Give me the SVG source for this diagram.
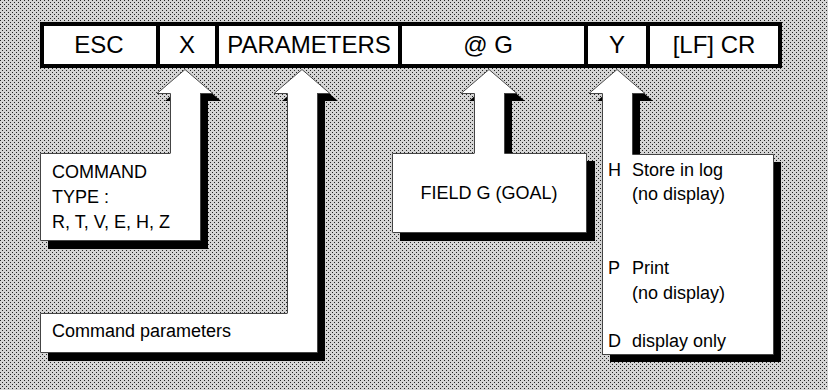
<svg xmlns="http://www.w3.org/2000/svg" width="828" height="390" viewBox="0 0 828 390">
  <defs>
    <pattern id="dots" width="4" height="4" patternUnits="userSpaceOnUse">
      <rect width="4" height="4" fill="#d4d4d4"/>
      <rect x="0" y="0" width="1" height="1" fill="#222"/>
      <rect x="2" y="2" width="1" height="1" fill="#222"/>
    </pattern>
  </defs>
  <style>
    .cell { fill: #fff; stroke: #000; stroke-width: 4; }
    .div { stroke: #000; stroke-width: 4; }
    .big { font-family: "Liberation Sans", Arial, sans-serif; font-size: 24px; fill: #000; text-anchor: middle; }
    .lbl { font-family: "Liberation Sans", Arial, sans-serif; font-size: 18px; fill: #000; }
    .shadow { fill: #000; stroke: none; }
    .white { fill: #fff; stroke: none; }
    .edge { fill: none; stroke: #444; stroke-width: 1; }
  </style>
  <rect width="828" height="390" fill="url(#dots)"/>

  <!-- top message bar -->
  <g id="bar">
    <rect class="cell" x="42" y="24" width="738" height="42"/>
    <line class="div" x1="158" y1="24" x2="158" y2="66"/>
    <line class="div" x1="217" y1="24" x2="217" y2="66"/>
    <line class="div" x1="400" y1="24" x2="400" y2="66"/>
    <line class="div" x1="586" y1="24" x2="586" y2="66"/>
    <line class="div" x1="648" y1="24" x2="648" y2="66"/>
  </g>
  <g id="cell-esc"><text class="big" x="99" y="53">ESC</text></g>
  <g id="cell-x"><text class="big" x="187" y="53">X</text></g>
  <g id="cell-parameters"><text class="big" x="309" y="53">PARAMETERS</text></g>
  <g id="cell-g"><text class="big" x="488" y="53">@ G</text></g>
  <g id="cell-y"><text class="big" x="617" y="53">Y</text></g>
  <g id="cell-lfcr"><text class="big" x="714" y="53">[LF] CR</text></g>

  <!-- connectors: block arrows -->
  <g id="connectors">
    <g id="arrow-x">
      <polygon class="shadow" transform="translate(8,8)" points="185,69 213,93 200,93 200,153 170,153 170,93 157,93"/>
      <polygon class="white" points="185,69 213,93 200,93 200,154 170,154 170,93 157,93"/>
      <polyline class="edge" points="170.5,153 170.5,93.5 157,93.5 185,69.5 213,93.5 200,93.5"/>
    </g>
    <g id="arrow-parameters">
      <polygon class="shadow" transform="translate(8,8)" points="302,69 330,93 317,93 317,313 287,313 287,93 274,93"/>
      <polygon class="white" points="302,69 330,93 317,93 317,314 287,314 287,93 274,93"/>
      <polyline class="edge" points="287.5,313 287.5,93.5 274,93.5 302,69.5 330,93.5 317,93.5"/>
    </g>
    <g id="arrow-g">
      <polygon class="shadow" transform="translate(8,8)" points="489,69 517,93 504,93 504,153 474,153 474,93 461,93"/>
      <polygon class="white" points="489,69 517,93 504,93 504,154 474,154 474,93 461,93"/>
      <polyline class="edge" points="474.5,153 474.5,93.5 461,93.5 489,69.5 517,93.5 504,93.5"/>
    </g>
    <g id="arrow-y">
      <polygon class="shadow" transform="translate(8,8)" points="617,69 645,93 632,93 632,154 602,154 602,93 589,93"/>
      <polygon class="white" points="617,69 645,93 632,93 632,155 602,155 602,93 589,93"/>
      <polyline class="edge" points="602.5,154 602.5,93.5 589,93.5 617,69.5 645,93.5 632,93.5"/>
    </g>
  </g>

  <!-- callout boxes -->
  <g id="box-command-type">
    <rect class="shadow" x="48" y="161" width="160" height="88"/>
    <rect class="white" x="40" y="153" width="160" height="88"/>
    <path class="edge" d="M170.5,153.5 H40.5 V240.5 H200.5 V93.5"/>
    <text class="lbl" x="52" y="178">COMMAND</text>
    <text class="lbl" x="52" y="203">TYPE :</text>
    <text class="lbl" x="52" y="228">R, T, V, E, H, Z</text>
  </g>
  <g id="box-command-parameters">
    <rect class="shadow" x="48" y="321" width="277" height="40"/>
    <rect class="white" x="40" y="313" width="277" height="40"/>
    <path class="edge" d="M287.5,313.5 H40.5 V352.5 H317.5 V93.5"/>
    <text class="lbl" x="52" y="337">Command parameters</text>
  </g>
  <g id="box-field-g">
    <rect class="shadow" x="400" y="161" width="195" height="80"/>
    <rect class="white" x="392" y="153" width="194" height="80"/>
    <path class="edge" d="M474.5,153.5 H392.5 V232.5 H586.5 V153.5 H504.5 V93.5"/>
    <text class="lbl" x="489" y="199" text-anchor="middle">FIELD G (GOAL)</text>
  </g>
  <g id="box-y-options">
    <rect class="shadow" x="610" y="162" width="171" height="200"/>
    <rect class="white" x="602" y="154" width="171" height="200"/>
    <path class="edge" d="M632.5,93.5 V154.5 H773.5 V354.5 H602.5 V154"/>
    <text class="lbl" x="608" y="175.5">H</text>
    <text class="lbl" x="632" y="175.5">Store in log</text>
    <text class="lbl" x="632" y="200">(no display)</text>
    <text class="lbl" x="608" y="274">P</text>
    <text class="lbl" x="632" y="274">Print</text>
    <text class="lbl" x="632" y="298.5">(no display)</text>
    <text class="lbl" x="608" y="346.5">D</text>
    <text class="lbl" x="632" y="346.5">display only</text>
  </g>
</svg>
